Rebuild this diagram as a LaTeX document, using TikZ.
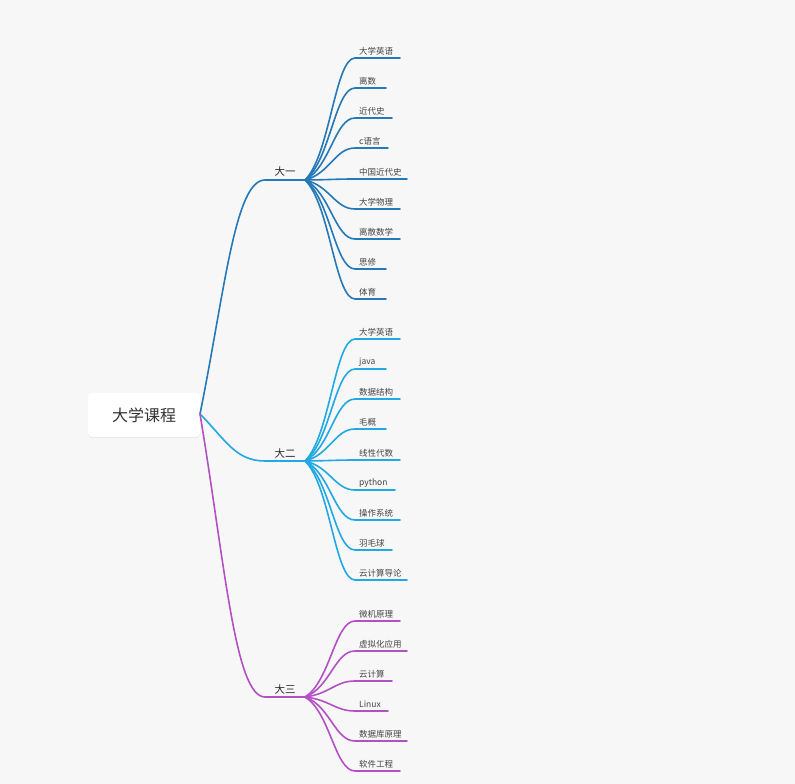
\documentclass[tikz,border=0pt]{standalone}
\usepackage{fontspec}
\newfontfamily\cjk{Noto Sans CJK SC}
\usetikzlibrary{shadows,calc}
\definecolor{bg}{HTML}{F7F7F7}
\definecolor{cA}{HTML}{2479B6}
\definecolor{cB}{HTML}{22A8E2}
\definecolor{cC}{HTML}{B350C4}
\definecolor{txt}{HTML}{444444}
\tikzset{
  link/.style={line width=1.6pt, line cap=round},
  kidtext/.style={font=\cjk\fontsize{8.5}{10}\selectfont, text=txt, anchor=west, inner sep=0pt},
  gradetext/.style={font=\cjk\fontsize{10.5}{12}\selectfont, text=black!85, inner sep=0pt},
  rootbox/.style={draw=none, fill=white, rounded corners=4pt, minimum width=112pt, minimum height=44pt,
    font=\cjk\fontsize{16}{18}\selectfont, text=black!80,
    drop shadow={opacity=0.10, shadow xshift=0pt, shadow yshift=-1pt}},
}
\begin{document}
\begin{tikzpicture}[x=1pt,y=-1pt]
\fill[bg] (0,0) rectangle (795,784);
\useasboundingbox (0,0) rectangle (795,784);

\node[rootbox] (root) at (144,415) {大学课程};
\coordinate (rootout) at (200,414);

% grades: name / y / colour / label
\foreach \g/\gy/\col/\lab in {gA/180/cA/大一, gB/461/cB/大二, gC/697/cC/大三}{
  \coordinate (\g h) at (265,\gy);
  \coordinate (\g) at (305,\gy);
  \node[gradetext] (\g lab) at (285,{\gy-8}) {\lab};
  \draw[link, \col] (rootout) .. controls (225,{414+0.53*(\gy-414)}) and (235,\gy) .. (\g h) -- (\g);
}

% children of 大一
\foreach \y/\e/\t [count=\i] in {58/400/大学英语, 88/386/离数, 118/392/近代史, 148/388/c语言, 179/407/中国近代史, 209/400/大学物理, 239/400/离散数学, 269/386/思修, 299/386/体育}{
  \node[kidtext] (kA\i) at (359,{\y-6.5}) {\t};
  \coordinate (kA\i s) at (355,\y);
  \coordinate (kA\i e) at (\e,\y);
  \draw[link, cA] (gA) .. controls (330,{180+0.2*(\y-180)}) and (335,\y) .. (kA\i s) -- (kA\i e);
}

% children of 大二
\foreach \y/\e/\t [count=\i] in {339/400/大学英语, 369/386/java, 399/400/数据结构, 429/386/毛概, 460/400/线性代数, 490/395/python, 520/400/操作系统, 550/392/羽毛球, 580/407/云计算导论}{
  \node[kidtext] (kB\i) at (359,{\y-6.5}) {\t};
  \coordinate (kB\i s) at (355,\y);
  \coordinate (kB\i e) at (\e,\y);
  \draw[link, cB] (gB) .. controls (330,{461+0.2*(\y-461)}) and (335,\y) .. (kB\i s) -- (kB\i e);
}

% children of 大三
\foreach \y/\e/\t [count=\i] in {621/400/微机原理, 651/407/虚拟化应用, 681/392/云计算, 711/388/Linux, 741/407/数据库原理, 771/400/软件工程}{
  \node[kidtext] (kC\i) at (359,{\y-6.5}) {\t};
  \coordinate (kC\i s) at (355,\y);
  \coordinate (kC\i e) at (\e,\y);
  \draw[link, cC] (gC) .. controls (330,{697+0.2*(\y-697)}) and (335,\y) .. (kC\i s) -- (kC\i e);
}
\end{tikzpicture}
\end{document}
